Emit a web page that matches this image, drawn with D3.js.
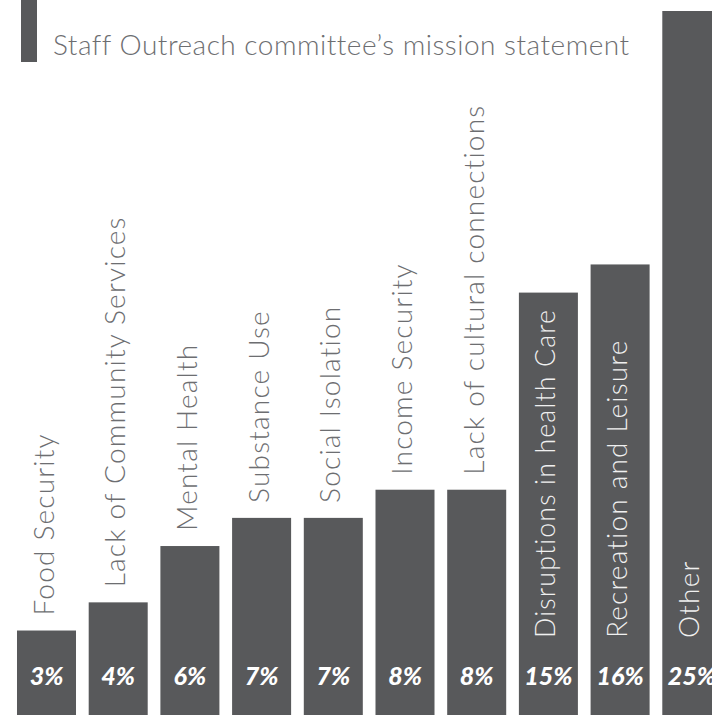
<!DOCTYPE html>
<html>
<head>
<meta charset="utf-8">
<script src="https://cdn.jsdelivr.net/npm/d3@7/dist/d3.min.js"></script>
<style>
  html, body { margin: 0; padding: 0; background: #ffffff; }
  svg { display: block; }
</style>
</head>
<body>
<script>
// Survey categories, in the order they are drawn left to right
const categories = [
  "Food Security",
  "Lack of Community Services",
  "Mental Health",
  "Substance Use",
  "Social Isolation",
  "Income Security",
  "Lack of cultural connections",
  "Disruptions in health Care",
  "Recreation and Leisure",
  "Other"
];
// Share of responses per category (percent)
const shares = [3, 4, 6, 7, 7, 8, 8, 15, 16, 25];
// Value labels printed at the foot of each bar
const shareLabels = ["3%", "4%", "6%", "7%", "7%", "8%", "8%", "15%", "16%", "25%"];

const title = "Staff Outreach committee\u2019s mission statement";

const W = 712, H = 715;
const barColor = "#58595b";
const textGray = "#6d6e71";

const svg = d3.select("body").append("svg")
  .attr("width", W)
  .attr("height", H);

// Title block with its accent bar
svg.append("rect")
  .attr("x", 21).attr("y", 0)
  .attr("width", 16).attr("height", 62)
  .attr("fill", barColor);

svg.append("text")
  .attr("x", 53).attr("y", 55)
  .attr("font-family", "Lato, 'Open Sans', sans-serif")
  .attr("font-weight", 300)
  .attr("font-size", 28)
  .attr("letter-spacing", 0.5)
  .attr("fill", textGray)
  .text(title);

// Scales
const x = d3.scaleBand()
  .domain(categories)
  .range([10.65, 727.65])
  .paddingInner(0.177)
  .paddingOuter(0.0885);

const y = d3.scaleLinear()
  .domain([0, 25])
  .range([715, 11]);

const rows = categories.map((c, i) => ({ cat: c, v: shares[i], lab: shareLabels[i] }));

const g = svg.append("g");

// Bars run off the bottom edge
g.selectAll("rect.bar")
  .data(rows)
  .join("rect")
  .attr("class", "bar")
  .attr("x", d => x(d.cat))
  .attr("y", d => y(d.v))
  .attr("width", x.bandwidth())
  .attr("height", d => H + 5 - y(d.v))
  .attr("fill", barColor);

// Category names, rotated; placed inside the bar when there is (nearly) room,
// shrinking the type a little if needed so it stays within the bar
const innerStart = 638;
const labelSize = 28;
const catLabels = g.selectAll("text.cat")
  .data(rows)
  .join("text")
  .attr("class", "cat")
  .attr("font-family", "Lato, 'Open Sans', sans-serif")
  .attr("font-weight", 300)
  .attr("font-size", labelSize)
  .attr("letter-spacing", 1.2)
  .attr("text-anchor", "start")
  .text(d => d.cat);

catLabels.each(function (d) {
  const len = this.getComputedTextLength();
  const top = y(d.v);
  const room = innerStart - top - 16;
  const inside = len < room * 1.15;
  const sel = d3.select(this);
  if (inside && len > room) {
    sel.attr("font-size", labelSize * room / len)
       .attr("letter-spacing", 1.2 * room / len);
  }
  const startY = inside ? innerStart : top - 15;
  const baseX = x(d.cat) + x.bandwidth() / 2 + 7;
  sel.attr("fill", inside ? "#f0f0f0" : textGray)
     .attr("transform", `translate(${baseX},${startY}) rotate(-90)`);
});

// Percent values at the foot of each bar
g.selectAll("text.val")
  .data(rows)
  .join("text")
  .attr("class", "val")
  .attr("x", d => x(d.cat) + x.bandwidth() / 2)
  .attr("y", 685)
  .attr("text-anchor", "middle")
  .attr("font-family", "Lato, 'Open Sans', sans-serif")
  .attr("font-weight", 900)
  .attr("font-style", "italic")
  .attr("font-size", 25)
  .attr("fill", "#ffffff")
  .text(d => d.lab);
</script>
</body>
</html>
